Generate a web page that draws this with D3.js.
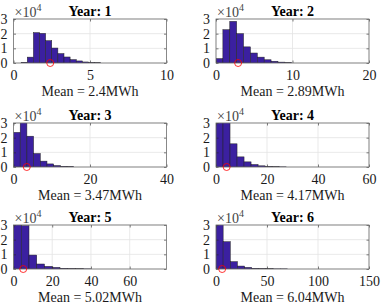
<!DOCTYPE html>
<html>
<head>
<meta charset="utf-8">
<script src="https://cdn.jsdelivr.net/npm/d3@7"></script>
<style>
  body { margin: 0; background: #fff; }
  svg text { font-family: "Liberation Serif", "Times New Roman", serif !important; }
</style>
</head>
<body>
<div id="chart"></div>
<script>
// per-year histogram data (counts in units of 1e4)
const years = [1, 2, 3, 4, 5, 6];
const means = [2.4, 2.89, 3.47, 4.17, 5.02, 6.04];
const binStarts = [0.5, 0, 0, 0, 0, 0];
const binWidths = [0.4, 0.9, 1.75, 2.75, 4, 7];
const counts = [
  [0.05, 0.4, 2.07, 2.02, 1.52, 1.02, 0.64, 0.41, 0.23, 0.14, 0.07, 0.03, 0.02],
  [0.3, 2.27, 2.84, 2.0, 1.1, 0.68, 0.4, 0.22, 0.12, 0.06, 0.03],
  [2.36, 3.05, 2.1, 0.92, 0.4, 0.21, 0.1, 0.05, 0.03],
  [3.5, 3.2, 1.58, 0.69, 0.35, 0.17, 0.08, 0.04, 0.02, 0.01],
  [3.5, 2.95, 0.95, 0.34, 0.18, 0.11, 0.05, 0.03, 0.02, 0.01],
  [3.6, 1.86, 0.5, 0.2, 0.11, 0.05, 0.03, 0.02, 0.01, 0.01]
];
const xMax = [10, 20, 40, 60, 79, 150];
const xTicks = [
  [0, 5, 10],
  [0, 10, 20],
  [0, 20, 40],
  [0, 20, 40, 60],
  [0, 20, 40, 60],
  [0, 50, 100, 150]
];
const yTicks = [0, 1, 2, 3];

const W = 382, H = 307;
const colLeft = [13.5, 216];
const plotW = 153;
const rowTop = [19, 123, 225];
const plotH = 44;

const svg = d3.select('#chart').append('svg')
  .attr('width', W).attr('height', H);

years.forEach((yr, i) => {
  const col = i % 2, row = Math.floor(i / 2);
  const x0 = colLeft[col], y0 = rowTop[row];
  const g = svg.append('g').attr('transform', 'translate(' + x0 + ',' + y0 + ')');

  const xScale = d3.scaleLinear().domain([0, xMax[i]]).range([0, plotW]);
  const yScale = d3.scaleLinear().domain([0, 3]).range([plotH, 0]);

  const clipId = 'clip' + i;
  g.append('clipPath').attr('id', clipId)
    .append('rect').attr('width', plotW).attr('height', plotH);

  // grid
  g.selectAll('.gx').data(xTicks[i]).enter().append('line')
    .attr('x1', d => xScale(d)).attr('x2', d => xScale(d))
    .attr('y1', 0).attr('y2', plotH)
    .attr('stroke', '#e3e3e3').attr('stroke-width', 0.8);
  g.selectAll('.gy').data(yTicks).enter().append('line')
    .attr('y1', d => yScale(d)).attr('y2', d => yScale(d))
    .attr('x1', 0).attr('x2', plotW)
    .attr('stroke', '#e3e3e3').attr('stroke-width', 0.8);

  // bars
  const bins = counts[i].map((c, k) => ({
    x0: binStarts[i] + k * binWidths[i],
    x1: binStarts[i] + (k + 1) * binWidths[i],
    c: c
  }));
  g.append('g').attr('clip-path', 'url(#' + clipId + ')')
    .selectAll('rect').data(bins).enter().append('rect')
    .attr('x', d => xScale(d.x0))
    .attr('width', d => xScale(d.x1) - xScale(d.x0))
    .attr('y', d => yScale(d.c))
    .attr('height', d => plotH - yScale(d.c))
    .attr('fill', '#3b20a0')
    .attr('stroke', '#222')
    .attr('stroke-width', 0.5);

  // axes with inner ticks on all sides
  const fmt = d3.format('d');
  const xAxis = d3.axisBottom(xScale).tickValues(xTicks[i]).tickFormat(fmt).tickSizeInner(-2.5).tickSizeOuter(0).tickPadding(7);
  const xAxisTop = d3.axisTop(xScale).tickValues(xTicks[i]).tickSizeInner(-2.5).tickSizeOuter(0).tickFormat('');
  const yAxis = d3.axisLeft(yScale).tickValues(yTicks).tickFormat(fmt).tickSizeInner(-2.5).tickSizeOuter(0).tickPadding(6);
  const yAxisRight = d3.axisRight(yScale).tickValues(yTicks).tickSizeInner(-2.5).tickSizeOuter(0).tickFormat('');

  [
    g.append('g').attr('transform', 'translate(0,' + plotH + ')').call(xAxis),
    g.append('g').call(xAxisTop),
    g.append('g').call(yAxis),
    g.append('g').attr('transform', 'translate(' + plotW + ',0)').call(yAxisRight)
  ].forEach(a => {
    a.attr('font-size', 14);
    a.select('.domain').remove();
    a.selectAll('line').attr('stroke', '#262626').attr('stroke-width', 0.6);
    a.selectAll('text').attr('fill', '#1a1a1a');
  });

  g.append('rect').attr('width', plotW).attr('height', plotH)
    .attr('fill', 'none').attr('stroke', '#707070').attr('stroke-width', 0.8);

  // mean marker
  g.append('circle')
    .attr('cx', xScale(means[i])).attr('cy', plotH).attr('r', 3.5)
    .attr('fill', 'none').attr('stroke', '#ff0000').attr('stroke-width', 0.8);

  // title
  g.append('text').attr('x', plotW / 2).attr('y', -3)
    .attr('text-anchor', 'middle').attr('font-size', 14).attr('font-weight', 'bold')
    .attr('fill', '#000')
    .text('Year: ' + yr);

  // exponent label
  const ex = g.append('text').attr('x', 1).attr('y', -2).attr('font-size', 14).attr('fill', '#444');
  ex.append('tspan').text('\u00d710');
  ex.append('tspan').attr('dy', -6).attr('font-size', 10).text('4');

  // x label
  g.append('text').attr('x', plotW / 2).attr('y', plotH + 33)
    .attr('text-anchor', 'middle').attr('font-size', 14).attr('fill', '#1a1a1a')
    .text('Mean = ' + means[i] + 'MWh');
});
</script>
</body>
</html>
